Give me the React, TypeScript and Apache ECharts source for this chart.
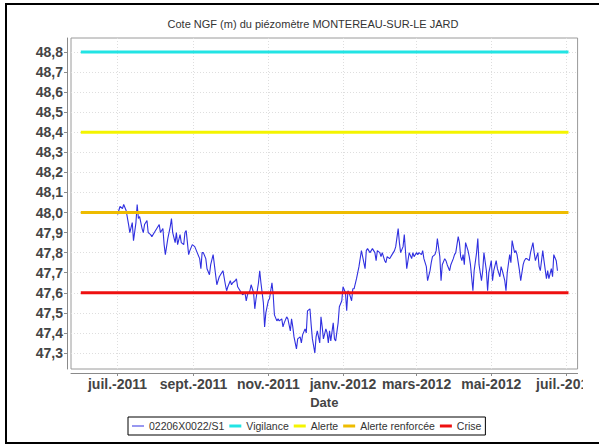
import React, { useEffect, useRef } from "react";
import * as echarts from "echarts";

const chartTitle = "Cote NGF (m) du piézomètre MONTEREAU-SUR-LE JARD";
const seriesName = "02206X0022/S1";
const axisName = "Date";

const dates: string[] = [
  "2011-07-01","2011-07-03","2011-07-05","2011-07-06","2011-07-08","2011-07-10","2011-07-11","2011-07-13","2011-07-14","2011-07-16","2011-07-17","2011-07-18","2011-07-19","2011-07-21","2011-07-22","2011-07-23","2011-07-25","2011-07-26","2011-07-28","2011-07-29","2011-07-31",
  "2011-08-02","2011-08-04","2011-08-05","2011-08-07","2011-08-08","2011-08-09","2011-08-11","2011-08-13","2011-08-14","2011-08-15","2011-08-17","2011-08-18","2011-08-19","2011-08-21","2011-08-22","2011-08-24","2011-08-25","2011-08-26","2011-08-28","2011-08-29","2011-08-31",
  "2011-09-02","2011-09-04","2011-09-06","2011-09-07","2011-09-08","2011-09-09","2011-09-11","2011-09-12","2011-09-14","2011-09-15","2011-09-17","2011-09-18","2011-09-20","2011-09-22","2011-09-24","2011-09-25","2011-09-27","2011-09-28","2011-09-29",
  "2011-10-01","2011-10-02","2011-10-03","2011-10-05","2011-10-06","2011-10-07","2011-10-09","2011-10-10","2011-10-11","2011-10-13","2011-10-14","2011-10-15","2011-10-17","2011-10-18","2011-10-20","2011-10-21","2011-10-22","2011-10-24","2011-10-25","2011-10-26","2011-10-28","2011-10-29","2011-10-30",
  "2011-11-01","2011-11-02","2011-11-04","2011-11-05","2011-11-06","2011-11-08","2011-11-09","2011-11-10","2011-11-12","2011-11-13","2011-11-14","2011-11-16","2011-11-17","2011-11-19","2011-11-20","2011-11-21","2011-11-22","2011-11-24","2011-11-25","2011-11-27","2011-11-28","2011-11-29",
  "2011-12-01","2011-12-02","2011-12-03","2011-12-05","2011-12-06","2011-12-07","2011-12-09","2011-12-10","2011-12-11","2011-12-13","2011-12-14","2011-12-15","2011-12-16","2011-12-18","2011-12-19","2011-12-20","2011-12-21","2011-12-22","2011-12-24","2011-12-25","2011-12-26","2011-12-28","2011-12-29","2011-12-31",
  "2012-01-01","2012-01-03","2012-01-04","2012-01-05","2012-01-06","2012-01-08","2012-01-09","2012-01-10","2012-01-12","2012-01-14","2012-01-16","2012-01-17","2012-01-19","2012-01-20","2012-01-21","2012-01-23","2012-01-25","2012-01-27","2012-01-28","2012-01-29","2012-01-31",
  "2012-02-01","2012-02-02","2012-02-04","2012-02-05","2012-02-06","2012-02-08","2012-02-10","2012-02-12","2012-02-13","2012-02-15","2012-02-16","2012-02-17","2012-02-19","2012-02-20","2012-02-22","2012-02-23","2012-02-24","2012-02-26","2012-02-27","2012-02-28",
  "2012-03-01","2012-03-02","2012-03-03","2012-03-05","2012-03-06","2012-03-07","2012-03-09","2012-03-10","2012-03-12","2012-03-13","2012-03-14","2012-03-16","2012-03-17","2012-03-18","2012-03-20","2012-03-21","2012-03-22","2012-03-24","2012-03-25","2012-03-26","2012-03-28","2012-03-29","2012-03-31",
  "2012-04-01","2012-04-02","2012-04-04","2012-04-05","2012-04-06","2012-04-07","2012-04-08","2012-04-09","2012-04-10","2012-04-12","2012-04-13","2012-04-14","2012-04-16","2012-04-17","2012-04-19","2012-04-20","2012-04-21","2012-04-23","2012-04-24","2012-04-25","2012-04-27","2012-04-28","2012-04-29",
  "2012-05-01","2012-05-02","2012-05-03","2012-05-05","2012-05-06","2012-05-08","2012-05-09","2012-05-10","2012-05-12","2012-05-13","2012-05-14","2012-05-16","2012-05-17","2012-05-18","2012-05-20","2012-05-21","2012-05-22","2012-05-24","2012-05-25","2012-05-27","2012-05-28","2012-05-29","2012-05-30",
  "2012-06-01","2012-06-02","2012-06-04","2012-06-05","2012-06-06","2012-06-08","2012-06-09","2012-06-10","2012-06-12","2012-06-13","2012-06-15","2012-06-16","2012-06-17","2012-06-19","2012-06-20","2012-06-21","2012-06-23","2012-06-24",
];

const levels: number[] = [
  47.99,48.03,48.02,48.04,48.01,47.94,47.90,47.95,47.86,47.95,48.04,47.97,47.98,47.92,47.90,47.94,47.96,47.90,47.89,47.88,47.90,
  47.92,47.94,47.90,47.92,47.84,47.79,47.87,47.93,47.97,47.90,47.85,47.90,47.84,47.89,47.85,47.84,47.90,47.91,47.79,47.81,47.84,
  47.83,47.80,47.77,47.72,47.80,47.80,47.77,47.72,47.69,47.74,47.79,47.74,47.64,47.68,47.70,47.71,47.64,47.61,47.63,
  47.66,47.64,47.65,47.66,47.67,47.63,47.61,47.60,47.59,47.60,47.56,47.59,47.61,47.64,47.60,47.52,47.57,47.65,47.71,47.65,47.55,47.43,47.50,
  47.56,47.57,47.65,47.59,47.49,47.46,47.47,47.46,47.47,47.43,47.45,47.48,47.47,47.41,47.47,47.43,47.38,47.32,47.37,47.38,47.35,47.39,
  47.42,47.40,47.51,47.52,47.44,47.37,47.30,47.38,47.41,47.35,47.48,47.43,47.37,47.42,47.40,47.35,47.41,47.36,47.45,47.37,47.36,47.45,47.53,47.56,
  47.63,47.60,47.51,47.61,47.60,47.56,47.62,47.62,47.67,47.73,47.81,47.78,47.72,47.81,47.82,47.80,47.82,47.80,47.76,47.81,47.80,
  47.78,47.80,47.76,47.75,47.78,47.77,47.79,47.81,47.83,47.92,47.85,47.80,47.83,47.89,47.72,47.76,47.80,47.77,47.80,47.78,
  47.80,47.79,47.80,47.79,47.81,47.77,47.73,47.66,47.71,47.75,47.78,47.79,47.81,47.87,47.78,47.66,47.74,47.77,47.76,47.74,47.71,47.74,47.77,
  47.79,47.80,47.88,47.85,47.78,47.76,47.79,47.74,47.85,47.81,47.78,47.74,47.61,47.71,47.80,47.87,47.74,47.66,47.71,47.80,47.71,47.61,47.70,
  47.76,47.66,47.71,47.76,47.72,47.68,47.73,47.71,47.66,47.61,47.70,47.79,47.75,47.86,47.80,47.81,47.79,47.71,47.66,47.74,47.76,47.77,47.77,
  47.76,47.80,47.85,47.80,47.76,47.80,47.73,47.71,47.81,47.76,47.67,47.71,47.67,47.72,47.68,47.79,47.76,47.71,
];

const thresholdNames = ["Vigilance", "Alerte", "Alerte renforcée", "Crise"];
const thresholdValues = [48.8, 48.4, 48.0, 47.6];
const thresholdStart = "2011-06-01";
const thresholdEnd = "2012-07-03";

const xTickDates = ["2011-07-01", "2011-09-01", "2011-11-01", "2012-01-01", "2012-03-01", "2012-05-01", "2012-07-01"];
const yTickValues = [47.3, 47.4, 47.5, 47.6, 47.7, 47.8, 47.9, 48.0, 48.1, 48.2, 48.3, 48.4, 48.5, 48.6, 48.7, 48.8];
const monthNames = ["janv.", "févr.", "mars", "avr.", "mai", "juin", "juil.", "août", "sept.", "oct.", "nov.", "déc."];

const xMin = "2011-05-24T00:00:00";
const xMax = "2012-07-10T10:00:00";
const yMin = 47.22;
const yMax = 48.87;

const dataColor = "#3030e0";
const thresholdColors = ["#22e4e4", "#f4f400", "#eebc00", "#ee1010"];

// legend glyphs: a horizontal bar inside a 12x12 box (thin for the data series, thick for thresholds)
const thinLineIcon = "path://M0,0M12,12M0,5.5h12v1h-12z";
const thickLineIcon = "path://M0,0M12,12M0,4.5h12v3h-12z";

const ts = (s: string) => new Date(s.length > 10 ? s : s + "T00:00:00").getTime();

export default function App() {
  const ref = useRef<HTMLDivElement>(null);
  useEffect(() => {
    if (!ref.current) return;
    const chart = echarts.init(ref.current, undefined, { renderer: "svg" });
    const font = "Arial, 'Liberation Sans', sans-serif";
    const series: any[] = [
      {
        name: seriesName,
        type: "line",
        symbol: "none",
        showSymbol: false,
        lineStyle: { color: dataColor, width: 1.1 },
        itemStyle: { color: dataColor },
        data: dates.map((d, i) => [ts(d), levels[i]]),
      },
      ...thresholdNames.map((n, i) => ({
        name: n,
        type: "line",
        symbol: "none",
        showSymbol: false,
        lineStyle: { color: thresholdColors[i], width: 3 },
        itemStyle: { color: thresholdColors[i] },
        data: [
          [ts(thresholdStart), thresholdValues[i]],
          [ts(thresholdEnd), thresholdValues[i]],
        ],
      })),
    ];
    chart.setOption({
      animation: false,
      backgroundColor: "#ffffff",
      title: {
        text: chartTitle,
        left: 308,
        top: 13,
        textAlign: "center",
        textStyle: { fontFamily: font, fontSize: 11, fontWeight: "normal", color: "#333" },
      },
      grid: {
        left: 71,
        right: 20,
        top: 38,
        bottom: 76,
        show: true,
        borderColor: "#9a9a9a",
        borderWidth: 1,
        backgroundColor: "#ffffff",
      },
      legend: {
        left: 128,
        top: 417,
        padding: [3, 4, 3, 4],
        itemGap: 5,
        itemWidth: 12,
        itemHeight: 12,
        borderColor: "#000",
        borderWidth: 1,
        borderRadius: 0,
        textStyle: { fontFamily: font, fontSize: 10.5, color: "#333" },
        data: [
          { name: seriesName, icon: thinLineIcon },
          ...thresholdNames.map((n) => ({ name: n, icon: thickLineIcon })),
        ],
      },
      xAxis: {
        type: "value",
        min: ts(xMin),
        max: ts(xMax),
        offset: 4,
        name: axisName,
        nameLocation: "middle",
        nameGap: 22,
        nameTextStyle: { fontFamily: font, fontSize: 13, fontWeight: "bold", color: "#444" },
        axisLine: { show: true, onZero: false, lineStyle: { color: "#8a8a8a", width: 1 } },
        axisTick: { show: true, length: 3, customValues: xTickDates.map(ts), lineStyle: { color: "#8a8a8a" } },
        axisLabel: {
          customValues: xTickDates.map(ts),
          margin: 4,
          fontFamily: font,
          fontSize: 14,
          fontWeight: "bold",
          color: "#444",
          formatter: (v: number) => {
            const d = new Date(v);
            return monthNames[d.getMonth()] + "-" + d.getFullYear();
          },
        },
        splitLine: { show: true, lineStyle: { color: "#dedede", type: [1, 2], width: 1 } },
      },
      yAxis: {
        type: "value",
        min: yMin,
        max: yMax,
        offset: 4,
        axisLine: { show: true, lineStyle: { color: "#8a8a8a", width: 1 } },
        axisTick: { show: true, length: 3, customValues: yTickValues, lineStyle: { color: "#8a8a8a" } },
        axisLabel: {
          customValues: yTickValues,
          margin: 4,
          fontFamily: font,
          fontSize: 14,
          fontWeight: "bold",
          color: "#444",
          formatter: (v: number) => v.toFixed(1).replace(".", ","),
        },
        splitLine: { show: true, lineStyle: { color: "#dedede", type: [1, 2], width: 1 } },
      },
      graphic: [
        {
          type: "rect",
          z: 100,
          shape: { x: 583, y: 376, width: 20, height: 20 },
          style: { fill: "#ffffff" },
        },
        {
          type: "rect",
          z: 100,
          shape: { x: 6, y: 4, width: 620, height: 439 },
          style: { fill: "none", stroke: "#000", lineWidth: 2 },
        },
      ],
      series,
    });
    return () => chart.dispose();
  }, []);
  return (
    <div style={{ position: "absolute", left: 0, top: 0, width: 599, height: 445, background: "#fff" }}>
      <div ref={ref} style={{ width: 599, height: 445 }} />
    </div>
  );
}
